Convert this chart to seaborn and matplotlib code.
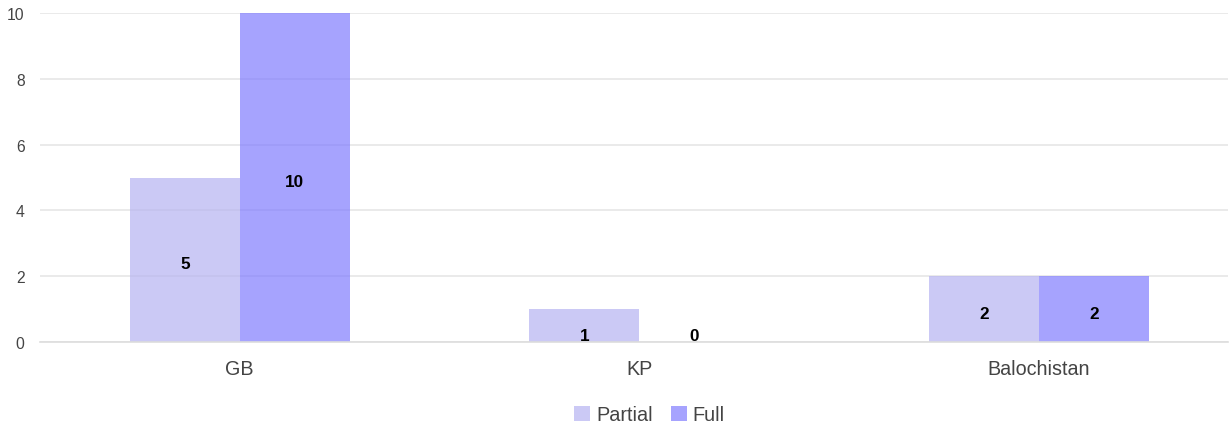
import pandas as pd
import numpy as np
import seaborn as sns
import matplotlib.pyplot as plt
from matplotlib.patches import Patch

regions = ["GB", "KP", "Balochistan"]
partial = [5, 1, 2]
full = [10, 0, 2]

df = pd.DataFrame({
    "region": regions * 2,
    "type": ["Partial"] * 3 + ["Full"] * 3,
    "count": partial + full,
})

sns.set_style("white")
plt.rcParams['font.family'] = ['Liberation Sans', 'DejaVu Sans']

fig = plt.figure(figsize=(12.3, 4.31), dpi=100)
ax = fig.add_axes([40 / 1230, 1 - 343 / 431, 1188 / 1230, 329 / 431])

pal = {"Partial": (182 / 255, 179 / 255, 241 / 255), "Full": (128 / 255, 124 / 255, 254 / 255)}
sns.barplot(data=df, x="region", y="count", hue="type", palette=pal,
            width=0.55, gap=0, alpha=0.7, saturation=1, legend=False,
            linewidth=0, edgecolor="none", ax=ax)

ax.set_axisbelow(True)
ax.yaxis.grid(True, color="#e6e6e6", linewidth=1.2)
ax.set_ylim(0, 10)
ax.set_xlim(-0.5, -0.5 + 1188 / 399.5)
ax.set_yticks([0, 2, 4, 6, 8, 10])
ax.tick_params(axis="y", length=0, pad=11, labelsize=11.3, labelcolor="#444444")
ax.tick_params(axis="x", length=0, pad=12, labelsize=14.2, labelcolor="#444444")
ax.set_xticks([-0.5, 0.5, 1.5], minor=True)
ax.tick_params(axis="x", which="minor", length=7, color="#cccccc", width=1)
ax.set_xlabel("")
ax.set_ylabel("")
for s in ["top", "right", "left"]:
    ax.spines[s].set_visible(False)
ax.spines["bottom"].set_color("#dddddd")
ax.spines["bottom"].set_linewidth(1.2)

# value labels near the middle of each bar, small ones sit on the baseline
for cont in ax.containers:
    for bar in cont:
        v = bar.get_height()
        y = v / 2 - 0.12 if v >= 2 else 0.21
        ax.text(bar.get_x() + bar.get_width() / 2, y, f"{v:.0f}",
                ha="center", va="center", fontsize=12.3, fontweight="bold", color="black")

handles = [Patch(facecolor=pal[k], alpha=0.7, edgecolor="none") for k in ["Partial", "Full"]]
fig.legend(handles, ["Partial", "Full"], loc="center", bbox_to_anchor=(0.528, 1 - 416 / 431),
           ncol=2, frameon=False, fontsize=14.3, handlelength=0.8, handleheight=0.8,
           handletextpad=0.3, columnspacing=0.9, labelcolor="#444444")

fig.savefig("out.png", dpi=100)
